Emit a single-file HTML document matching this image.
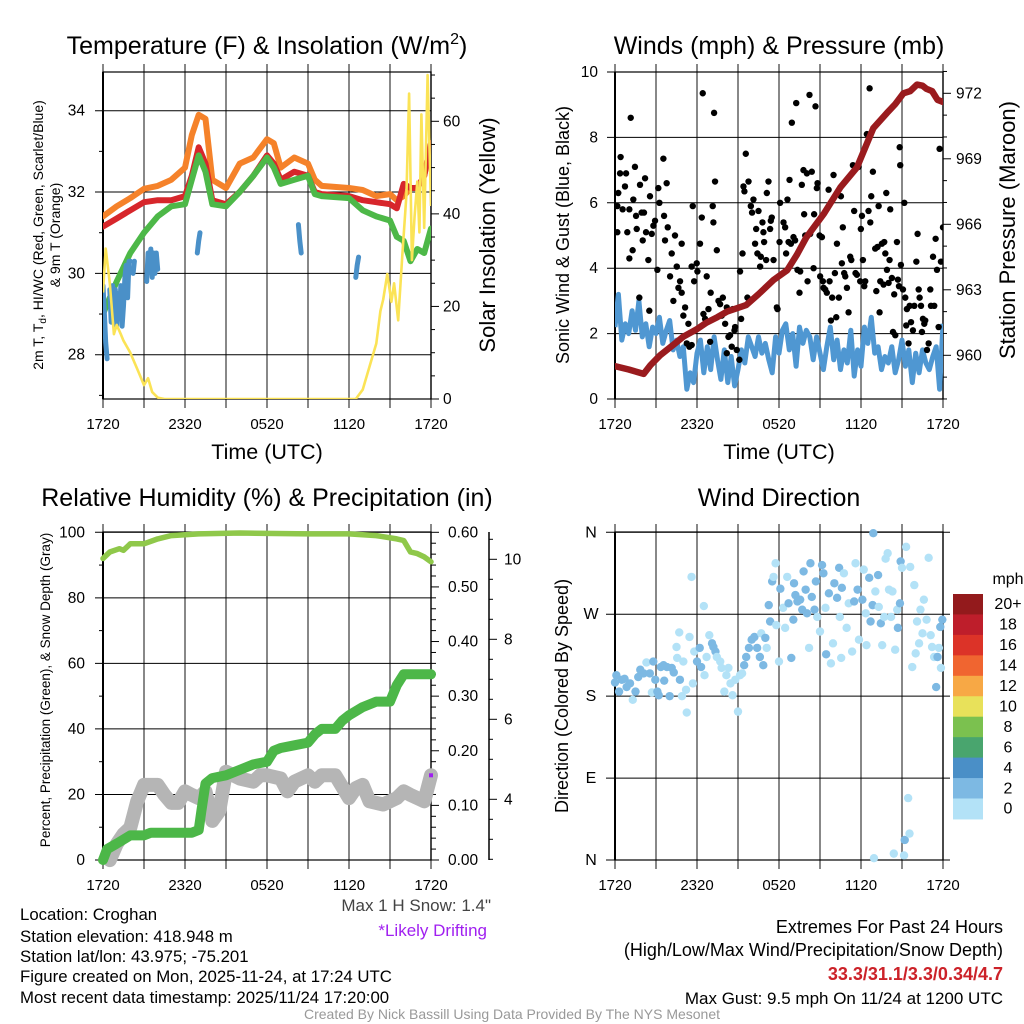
<!DOCTYPE html>
<html><head><meta charset="utf-8"><title>Croghan Meteogram</title>
<style>
html,body{margin:0;padding:0;background:#fff;}
svg{display:block;font-family:"Liberation Sans",Arial,sans-serif;}
</style></head>
<body>
<svg id="chart" xmlns="http://www.w3.org/2000/svg" width="1024" height="1024" viewBox="0 0 1024 1024">
<rect x="0" y="0" width="1024" height="1024" fill="#fff"/>
<defs>
<clipPath id="c1"><rect x="103" y="72" width="328" height="327"/></clipPath>
<clipPath id="c2"><rect x="615" y="72" width="328" height="327"/></clipPath>
<clipPath id="c3"><rect x="96" y="526" width="346" height="342"/></clipPath>
<clipPath id="c4"><rect x="608" y="526" width="342" height="342"/></clipPath>
</defs>
<g id="layer"></g>
<!-- titles -->
<text x="267" y="54" text-anchor="middle" font-size="25">Temperature (F) &amp; Insolation (W/m<tspan font-size="16" dy="-10">2</tspan><tspan dy="10">)</tspan></text>
<text x="779" y="54" text-anchor="middle" font-size="25">Winds (mph) &amp; Pressure (mb)</text>
<text x="267" y="506" text-anchor="middle" font-size="25">Relative Humidity (%) &amp; Precipitation (in)</text>
<text x="779" y="506" text-anchor="middle" font-size="25">Wind Direction</text>
<!-- x-axis titles -->
<text x="267" y="459" text-anchor="middle" font-size="21.5">Time (UTC)</text>
<text x="779" y="459" text-anchor="middle" font-size="21.5">Time (UTC)</text>
<!-- y axis titles -->
<text transform="translate(43,235) rotate(-90)" text-anchor="middle" font-size="14">2m T, T<tspan font-size="10" dy="3">d</tspan><tspan dy="-3">, HI/WC (Red, Green, Scarlet/Blue)</tspan></text>
<text transform="translate(60,235) rotate(-90)" text-anchor="middle" font-size="14">&amp; 9m T (Orange)</text>
<text transform="translate(495,235) rotate(-90)" text-anchor="middle" font-size="22">Solar Insolation (Yellow)</text>
<text transform="translate(569,235) rotate(-90)" text-anchor="middle" font-size="18">Sonic Wind &amp; Gust (Blue, Black)</text>
<text transform="translate(1015,230) rotate(-90)" text-anchor="middle" font-size="22">Station Pressure (Maroon)</text>
<text transform="translate(50,690) rotate(-90)" text-anchor="middle" font-size="13.5">Percent, Precipitation (Green), &amp; Snow Depth (Gray)</text>
<text transform="translate(568,696) rotate(-90)" text-anchor="middle" font-size="18">Direction (Colored By Speed)</text>
<!-- footer text -->
<text x="491" y="911" text-anchor="end" font-size="17" fill="#444">Max 1 H Snow: 1.4"</text>
<text x="487" y="936" text-anchor="end" font-size="17" fill="#a020f0">*Likely Drifting</text>
<g font-size="16.8">
<text x="20" y="920">Location: Croghan</text>
<text x="20" y="942">Station elevation: 418.948 m</text>
<text x="20" y="962">Station lat/lon: 43.975; -75.201</text>
<text x="20" y="982">Figure created on Mon, 2025-11-24, at 17:24 UTC</text>
<text x="20" y="1003">Most recent data timestamp: 2025/11/24 17:20:00</text>
</g>
<text x="1003" y="933" text-anchor="end" font-size="18">Extremes For Past 24 Hours</text>
<text x="1003" y="956" text-anchor="end" font-size="18">(High/Low/Max Wind/Precipitation/Snow Depth)</text>
<text x="1003" y="980" text-anchor="end" font-size="18" font-weight="bold" fill="#cc2229">33.3/31.1/3.3/0.34/4.7</text>
<text x="1003" y="1004" text-anchor="end" font-size="17">Max Gust: 9.5 mph On 11/24 at 1200 UTC</text>
<text x="512" y="1019" text-anchor="middle" font-size="14" fill="#999">Created By Nick Bassill Using Data Provided By The NYS Mesonet</text>
</svg>
<script>
// ---------- data ----------
const timeTicks = ["1720","2320","0520","1120","1720"];
// Panel 1: temperatures (hours since 1720 UTC)
const tempT = [0,1,2,3,4,5,6,6.5,7,7.5,8,9,10,11,12,12.5,13,14,15,15.5,16,18,19,20,21,21.5,22,22.5,23,23.5,24];
const orangeT9m = [31.4,31.65,31.85,32.08,32.15,32.3,32.6,33.4,33.9,33.8,32.3,32.1,32.7,32.85,33.3,33.2,32.6,32.85,32.7,32.3,32.15,32.1,32.05,31.9,31.95,31.8,31.9,32.1,32.1,32.4,33.2];
const redT2m = [31.15,31.35,31.55,31.75,31.8,31.8,31.9,32.4,33.1,32.7,31.8,31.7,32.0,32.4,32.9,32.7,32.3,32.5,32.4,32.0,31.95,31.9,31.8,31.75,31.7,31.6,32.2,32.1,32.1,32.4,33.2];
const greenTd = [29.0,29.8,30.5,31.0,31.4,31.65,31.7,32.3,32.9,32.5,31.7,31.65,32.0,32.4,32.85,32.6,32.2,32.3,32.4,31.95,31.9,31.85,31.55,31.4,31.3,30.9,30.8,30.3,30.6,30.5,31.1];
const chillT = [0,0.1,0.2,0.3,null,0.5,0.6,0.7,0.8,0.9,1.0,1.1,1.2,1.3,1.4,1.5,1.6,1.7,1.8,1.9,2.0,null,2.2,2.3,null,3.2,3.3,3.4,3.5,3.6,3.7,3.8,3.9,4.0,null,6.9,7.0,7.1,null,14.3,14.4,14.5,null,18.5,18.6,18.7];
const chillV = [29.7,29.0,28.3,27.9,null,29.6,28.8,29.7,28.9,29.6,28.7,29.5,28.9,29.7,28.7,29.2,29.9,30.2,29.4,30.3,30.3,null,30.0,30.3,null,29.8,30.5,30.2,30.6,29.9,30.5,30.0,30.5,30.1,null,30.5,30.8,31.0,null,31.2,30.8,30.5,null,29.9,30.2,30.4];
const solarT = [0,0.2,0.5,0.8,1,1.3,1.5,2,2.5,3,3.3,3.6,4,4.5,18.5,19,19.5,20,20.3,20.5,20.8,21.1,21.3,21.6,21.9,22.2,22.4,22.6,22.8,23,23.15,23.3,23.5,23.75,24];
const solarV = [23,32.5,25,14,16,14,12.6,10,6.5,3,4.5,1.5,0.3,0,0,2,7,12,19,21.5,27,21,25,17,31,44,66,30,39.5,47,36,61.5,37,70,41.7];
const tempTicks = [28,30,32,34];
const solarTicks = [0,20,40,60];
// Panel 2: winds
const windV = [2.2,3.2,1.8,2.3,2.0,2.7,2.1,3.0,1.9,2.3,1.6,2.2,2.0,2.5,1.7,2.1,2.4,1.5,1.8,1.3,1.6,0.3,0.8,0.5,1.4,1.8,0.8,1.6,0.9,1.9,1.2,0.6,1.5,0.5,1.3,0.4,0.9,1.5,1.1,1.9,1.6,1.3,1.9,1.4,1.7,1.2,0.8,1.9,1.4,2.1,2.3,1.5,2.0,1.0,2.2,1.7,2.1,1.9,1.2,1.9,1.4,0.9,1.6,2.2,1.2,1.8,0.9,1.5,1.1,2.1,0.7,1.5,1.0,2.2,1.7,2.5,1.4,1.6,0.9,1.3,1.1,1.6,0.8,1.2,1.8,1.0,1.5,0.5,1.4,0.8,1.5,1.1,0.9,1.3,1.6,0.3,2.3];
const windStepHours = 0.25;
const gustT = [0.17,0.24,0.41,0.37,0.17,0.73,0.81,0.9,0.56,1.15,1.05,1.34,1.46,1.54,1.59,1.05,1.29,1.83,1.95,2.2,2.12,2.27,2.03,2.44,1.78,2.56,2.69,2.81,2.93,3.17,3.25,3.54,3.59,3.66,3.78,3.86,3.1,2.51,4.03,4.15,4.39,4.52,4.27,4.64,4.76,4.88,4.88,5.0,5.13,5.37,5.25,5.44,5.61,5.69,5.61,5.79,5.98,6.03,6.22,6.35,6.42,6.47,6.59,6.71,6.84,6.96,7.0,7.15,7.2,7.25,7.32,7.45,7.57,7.69,7.81,7.89,8.06,8.18,8.18,8.3,8.42,8.54,8.62,8.74,8.79,8.91,9.1,9.15,9.23,9.33,9.4,9.47,9.57,9.69,9.77,9.94,10.03,10.13,10.25,10.33,10.42,10.5,10.62,10.67,10.79,10.86,10.91,11.06,11.11,11.23,11.35,11.4,11.47,11.6,11.84,11.89,12.04,12.08,12.33,12.45,12.52,12.62,12.7,12.77,12.87,12.94,13.06,13.18,13.26,13.35,13.5,13.55,13.67,13.79,13.84,13.92,14.04,14.09,14.23,14.28,14.4,14.53,14.57,14.67,14.77,14.82,14.97,15.01,15.14,15.21,15.26,15.38,15.5,15.63,15.7,15.8,15.89,15.99,16.09,16.19,16.24,16.38,16.53,16.6,16.67,16.77,16.85,16.97,17.09,17.21,17.29,17.41,17.5,17.6,17.7,17.82,17.94,17.99,18.07,18.14,18.24,18.31,18.43,18.55,18.63,18.68,18.75,18.87,19.04,19.12,19.21,19.29,19.36,19.41,19.53,19.65,19.7,19.78,19.85,19.9,20.02,20.09,20.14,20.26,20.34,20.43,20.51,20.63,20.7,20.78,20.83,20.87,20.92,21.07,21.17,21.24,21.31,21.36,21.48,21.56,21.66,21.8,21.9,22.05,22.14,22.22,22.29,22.39,22.46,22.53,22.63,22.7,22.83,22.95,23.07,23.12,23.27,23.36,23.46,23.56,23.68,23.75,23.85,24.0];
const gustV = [5.9,6.3,7.4,6.9,5.1,6.5,6.9,5.1,5.8,8.6,5.8,6.1,7.1,5.6,5.2,4.3,4.55,6.55,5.7,6.75,5.7,5.1,4.85,4.25,3.1,6.2,5.05,5.3,5.45,6.45,6.0,7.35,5.6,4.85,6.6,5.25,3.95,2.7,3.75,4.45,5.0,4.05,3.0,3.4,3.6,4.75,3.25,2.55,2.8,2.3,1.7,1.6,1.65,5.9,4.05,3.6,4.15,3.9,4.75,5.55,9.35,2.6,2.45,3.75,2.75,1.75,3.25,5.9,5.4,8.75,6.65,4.55,3.0,2.9,2.55,3.1,2.3,2.8,1.4,1.9,1.95,1.6,2.75,2.1,2.2,1.5,1.2,3.9,2.45,4.45,6.5,6.35,7.5,3.1,6.65,5.9,5.7,6.1,4.75,5.2,4.45,5.75,4.05,4.35,5.4,5.1,4.8,4.25,6.3,6.65,5.2,5.45,5.55,4.25,2.8,2.75,4.8,6.0,5.4,5.25,4.45,6.1,4.8,6.7,4.75,8.45,4.95,4.85,9.05,3.95,3.25,3.9,6.55,7.0,5.65,5.0,6.9,3.6,9.3,5.05,6.95,4.0,5.65,8.95,6.45,6.6,5.0,3.75,4.95,3.6,3.4,3.35,3.25,6.4,3.6,2.4,3.1,6.85,3.85,2.5,4.75,3.1,6.2,4.15,5.25,3.85,3.75,3.4,2.65,4.35,4.25,7.15,5.75,3.85,3.8,7.1,3.6,5.2,5.6,4.25,3.45,3.6,8.1,5.75,9.5,5.4,6.2,6.95,4.6,3.3,4.65,5.9,2.65,3.6,4.75,3.5,4.8,4.45,6.3,3.95,3.55,4.25,5.8,3.7,2.05,3.2,1.95,4.8,3.65,3.45,7.7,7.15,4.1,3.35,6.0,3.1,2.25,2.75,1.7,2.85,2.35,2.1,2.85,4.2,5.05,3.35,3.1,2.85,2.05,2.45,2.3,2.4,1.5,1.7,3.35,2.85,4.35,2.85,4.9,3.95,2.2,7.65,4.2,5.25];
const presT = [0,1,2.1,2.6,3.3,4.3,5,6,6.7,7.5,8.2,9.6,10.5,11.6,12.6,13.3,14,15.3,16.5,17.7,18.3,18.9,19.9,20.5,21.1,21.6,22.1,22.5,22.8,23.2,23.6,24];
const presV = [959.5,959.35,959.15,959.55,960.0,960.5,960.85,961.2,961.5,961.75,962.0,962.3,962.8,963.45,963.9,964.6,965.4,966.5,967.7,968.6,969.5,970.4,971.1,971.5,972.0,972.1,972.4,972.35,972.2,972.1,971.7,971.6];
const windTicks = [0,2,4,6,8,10];
const presTicks = [960,963,966,969,972];
// Panel 3: humidity, precip, snow
const rhT = [0,0.5,1.2,1.5,2,3,4,5,7,10,15,18,20,21.5,22,22.5,23,23.5,24];
const rhV = [92,94,95,94.5,96.5,96.5,98,99,99.5,99.8,99.5,99.5,99,98,97.5,94,93.5,92.5,91];
const precipT = [0,0.3,1,2,3,3.5,6.5,7,7.2,7.5,8,9,10,11,12,12.5,13,14,15,15.5,16,17,17.5,18,19,20,21,21.5,22,24];
const precipV = [0,0.02,0.03,0.045,0.045,0.05,0.05,0.055,0.09,0.14,0.15,0.155,0.165,0.175,0.18,0.2,0.205,0.21,0.215,0.23,0.24,0.24,0.255,0.265,0.28,0.29,0.29,0.32,0.34,0.34];
const snowT = [0.5,1,1.5,2,2.5,3,4,4.5,5,5.5,6,6.5,7,7.5,8,8.5,9,10,11,11.5,12,13,13.5,14,15,15.5,16,17,18,18.5,19,19.5,20.5,21,21.5,22,22.5,23,23.5,24];
const snowV = [2.48,2.88,3.13,3.29,3.95,4.36,4.36,4.11,3.91,3.91,4.2,4.11,4.03,4.2,3.46,3.7,4.69,4.52,4.44,4.6,4.6,4.52,4.2,4.44,4.6,4.44,4.6,4.6,4.03,4.28,4.36,3.95,3.87,3.95,4.03,4.2,4.11,4.03,3.95,4.6];
const pctTicks = [0,20,40,60,80,100];
const precipTicks = ["0.00","0.10","0.20","0.30","0.40","0.50","0.60"];
const snowTicks = [4,6,8,10];
// Panel 4: wind direction
const dirT = [0,0.1,0.3,0.5,0.7,0.85,1.1,1.3,1.5,1.7,1.85,2.1,2.3,2.55,2.7,2.8,2.95,3.1,3.2,3.35,3.55,3.6,3.8,4.0,4.15,4.3,4.5,4.55,4.7,4.75,4.9,5.0,5.2,5.25,5.45,5.6,5.7,5.8,6.0,6.2,6.3,6.5,6.55,6.7,6.9,7.1,7.2,7.35,7.45,7.7,7.8,8.0,8.15,8.3,8.45,8.6,8.8,9.0,9.15,9.3,9.45,9.6,9.8,10.0,10.2,10.4,10.6,10.7,10.85,11.0,11.1,11.25,11.35,11.5,11.6,11.75,11.8,12.0,12.1,12.3,12.45,12.6,12.7,12.9,13.05,13.1,13.2,13.35,13.55,13.7,13.8,13.95,14.05,14.2,14.3,14.4,14.6,14.7,14.8,15.0,15.15,15.25,15.4,15.45,15.65,15.8,15.95,16.05,16.25,16.4,16.45,16.55,16.6,16.75,16.95,17.1,17.35,17.5,17.6,17.75,17.85,18.1,18.2,18.35,18.4,18.6,18.7,18.85,18.9,18.95,19.05,19.25,19.3,19.45,19.55,19.7,19.8,19.95,20.05,20.2,20.3,20.4,20.5,20.65,20.7,20.85,20.9,21.0,21.15,21.2,21.3,21.45,21.55,21.6,21.75,21.9,22.0,22.1,22.25,22.35,22.5,22.6,22.8,22.95,23.1,23.2,23.35,23.5,23.6,23.7,23.8,23.85,23.95];
const dirV = [195,203,185,198,199,190,194,176,185,201,209,205,217,205,184,218,198,185,181,212,214,197,212,180,211,206,234,222,250,198,180,218,187,162,245,311,194,229,218,233,212,279,203,223,247,238,234,229,223,218,211,185,203,211,194,181,198,163,203,205,214,223,233,242,245,233,223,249,214,244,233,280,262,306,311,326,258,218,298,277,255,311,282,222,264,304,291,284,286,275,317,297,271,233,326,289,275,306,267,251,324,315,277,226,293,216,238,304,288,321,267,222,299,315,255,282,229,284,326,297,242,286,319,271,236,310,262,280,359,2,295,313,278,260,236,267,331,337,297,267,295,7,231,275,255,282,328,321,5,22,344,68,29,322,212,302,227,262,238,275,249,286,264,332,247,234,223,190,223,233,256,211,264];
const dirS = [2.6,2.6,2.6,2.6,2.6,2.6,2.6,1.3,2.6,2.6,2.6,2.6,1.3,2.6,1.3,2.6,2.6,2.6,2.6,2.6,2.6,2.6,2.6,2.6,2.6,2.6,1.3,1.3,1.3,2.6,1.3,1.3,1.3,1.3,1.3,1.3,1.3,1.3,2.6,2.6,2.6,1.3,1.3,1.3,1.3,2.6,2.6,2.6,1.3,1.3,1.3,1.3,1.3,1.3,1.3,1.3,1.3,1.3,1.3,1.3,2.6,2.6,2.6,2.6,2.6,2.6,2.6,1.3,2.6,2.6,1.3,2.6,2.6,2.6,1.3,1.3,1.3,1.3,2.6,1.3,1.3,1.3,2.6,2.6,2.6,2.6,2.6,2.6,2.6,2.6,2.6,2.6,2.6,1.3,2.6,2.6,2.6,2.6,1.3,1.3,2.6,2.6,1.3,2.6,2.6,1.3,1.3,2.6,2.6,2.6,1.3,1.3,2.6,1.3,1.3,1.3,1.3,2.6,1.3,2.6,1.3,2.6,1.3,1.3,1.3,2.6,2.6,2.6,2.6,1.3,1.3,2.6,1.3,2.6,1.3,1.3,1.3,1.3,1.3,1.3,1.3,1.3,1.3,1.3,2.6,2.6,2.6,1.3,1.3,2.6,1.3,1.3,1.3,1.3,1.3,1.3,1.3,1.3,1.3,1.3,1.3,1.3,1.3,1.3,1.3,1.3,1.3,2.6,2.6,1.3,2.6,1.3,2.6];
const dirTicks = ["N","E","S","W","N"];
const cbLabels = ["0","2","4","6","8","10","12","14","16","18","20+"];
const cbColors = ["#b3e2f7","#7db9e3","#4a8fc7","#49a56e","#7bc14f","#e8e15a","#f7a845","#f06530","#dc3328","#be1e2b","#931a1c"];

// ---------- helpers ----------
const NS = "http://www.w3.org/2000/svg";
const layer = document.getElementById("layer");
function mk(tag, attrs, parent){
  const e = document.createElementNS(NS, tag);
  for (const k in attrs) e.setAttribute(k, attrs[k]);
  (parent || layer).appendChild(e);
  return e;
}
function lin(d0,d1,r0,r1){ return v => r0 + (v-d0)*(r1-r0)/(d1-d0); }
function pathFrom(ts, vs, sx, sy){
  let d = "", pen = false;
  for (let i=0;i<ts.length;i++){
    if (ts[i]===null || vs[i]===null){ pen=false; continue; }
    d += (pen?"L":"M") + sx(ts[i]).toFixed(1) + "," + sy(vs[i]).toFixed(1);
    pen = true;
  }
  return d;
}
function speedColor(s){
  let i = Math.min(10, Math.max(0, Math.floor(s/2)));
  return cbColors[i];
}

// ---------- frame builder ----------
function frame(p, name){
  const g = mk("g", {});
  
  
  for (let h=0; h<=24; h+=3){
    const x = p.sx(h);
    const l = mk("line", {x1:x, x2:x, y1:p.y0-8, y2:p.y1+9, stroke:"#555", "stroke-width":1.4}, g);
    
    
  }
  timeTicks.forEach((lab,i)=>{
    const t = mk("text", {x:p.sx(i*6), y:p.y1+30, "text-anchor":"middle", "font-size":15}, g);
    t.textContent = lab;
    
    
  });
  const r = mk("rect", {x:p.x0, y:p.y0, width:p.x1-p.x0, height:p.y1-p.y0, fill:"none", stroke:"#000", "stroke-width":1.2}, g);
  
  
  const la = mk("line", {x1:p.x0, x2:p.x0, y1:p.y0, y2:p.y1, stroke:"#000", "stroke-width":2}, g);
  
  
  return g;
}
function hgrid(g, p, y, name){
  const l = mk("line", {x1:p.x0-8, x2:p.x1, y1:y, y2:y, stroke:"#000", "stroke-width":1}, g);
  
  
}
function tick(g, x1, x2, y, name){
  const l = mk("line", {x1:x1, x2:x2, y1:y, y2:y, stroke:"#000", "stroke-width":1}, g);
  
  
}
function label(g, x, y, txt, anchor, name, size){
  const t = mk("text", {x:x, y:y+5, "text-anchor":anchor, "font-size":size||15.5}, g);
  t.textContent = txt;
  
  
  return t;
}

// ---------- panel 1 ----------
(function(){
  const p = {x0:103, x1:431, y0:72, y1:399};
  p.sx = lin(0,24,p.x0,p.x1);
  const sy = lin(28,34,354.7,110.7);
  const sy2 = lin(0,60,399,121.3);
  const g = frame(p, "temperature");
  for (let v=27; v<=34; v++){
    if (v%2===0){ hgrid(g,p,sy(v),"temperature"); label(g,85,sy(v),String(v),"end","temperature-y-tick-label"); }
    else tick(g,99,103,sy(v),"temperature-minor-tick");
  }
  for (let v=0; v<=70; v+=5){
    const y = sy2(v);
    if (v%20===0){ tick(g,431,439,y,"insolation-major-tick"); label(g,443,y,String(v),"start","insolation-y-tick-label"); }
    else tick(g,431,435,y,"insolation-minor-tick");
  }
  const cg = mk("g", {"clip-path":"url(#c1)"});
  
  
  const series = [
    [orangeT9m,"#f5822a","temperature-9m-line"],
    [redT2m,"#d7262b","temperature-2m-line"],
    [greenTd,"#4db848","dewpoint-line"]
  ];
  series.forEach(s=>{
    const e = mk("path", {d:pathFrom(tempT,s[0],p.sx,sy), fill:"none", stroke:s[1], "stroke-width":6, "stroke-linejoin":"round", "stroke-linecap":"round"}, cg);
    
    
  });
  const wc = mk("path", {d:pathFrom(chillT,chillV,p.sx,sy), fill:"none", stroke:"#4a90c8", "stroke-width":5, "stroke-linejoin":"round", "stroke-linecap":"round"}, cg);
  
  
  const yl = mk("path", {d:pathFrom(solarT,solarV,p.sx,sy2), fill:"none", stroke:"#fbe356", "stroke-width":2.6, "stroke-linejoin":"round"}, cg);
  
  
})();

// ---------- panel 2 ----------
(function(){
  const p = {x0:615, x1:943, y0:72, y1:399};
  p.sx = lin(0,24,p.x0,p.x1);
  const sy = lin(0,10,399,72);
  const sy2 = lin(960,972,355.3,93.3);
  const g = frame(p, "winds");
  windTicks.forEach(v=>{ hgrid(g,p,sy(v),"winds"); label(g,598,sy(v),String(v),"end","wind-y-tick-label"); });
  for (let v=958; v<=973; v++){
    const y = sy2(v);
    if (presTicks.indexOf(v)>=0){ tick(g,943,951,y,"pressure-major-tick"); label(g,956,y,String(v),"start","pressure-y-tick-label"); }
    else tick(g,943,947,y,"pressure-minor-tick");
  }
  const cg = mk("g", {"clip-path":"url(#c2)"});
  
  
  const wt = windV.map((v,i)=>i*windStepHours);
  const wl = mk("path", {d:pathFrom(wt,windV,p.sx,sy), fill:"none", stroke:"#4f97d2", "stroke-width":5, "stroke-linejoin":"round"}, cg);
  
  
  gustT.forEach((t,i)=>{
    const c = mk("circle", {cx:p.sx(t), cy:sy(gustV[i]), r:3.2, fill:"#000"}, cg);
    
    
  });
  const pl = mk("path", {d:pathFrom(presT,presV,p.sx,sy2), fill:"none", stroke:"#9a1b1e", "stroke-width":6.5, "stroke-linejoin":"round", "stroke-linecap":"round"}, cg);
  
  
})();

// ---------- panel 3 ----------
(function(){
  const p = {x0:103, x1:431, y0:532, y1:860};
  p.sx = lin(0,24,p.x0,p.x1);
  const sy = lin(0,100,860,532.3);
  const syp = lin(0,0.6,860,532.3);
  const sys = lin(4,10,799.3,559.3);
  const g = frame(p, "humidity");
  for (let v=0; v<=100; v+=10){
    if (v%20===0){ hgrid(g,p,sy(v),"humidity"); label(g,85,sy(v),String(v),"end","humidity-y-tick-label"); }
    else tick(g,99,103,sy(v),"humidity-minor-tick");
  }
  for (let k=0; k<=30; k++){
    const v = k*0.02, y = syp(v);
    if (k%5===0){ tick(g,431,439,y,"precip-major-tick"); label(g,448,y,precipTicks[k/5],"start","precip-y-tick-label"); }
    else tick(g,431,436,y,"precip-minor-tick");
  }
  const sa = mk("line", {x1:489, x2:489, y1:532, y2:860, stroke:"#000", "stroke-width":1.5}, g);
  
  
  for (let k=5; k<=21; k++){
    const v = k*0.5, y = sys(v);
    if (y<532||y>860) continue;
    if (snowTicks.indexOf(v)>=0){ tick(g,489,497,y,"snow-major-tick"); label(g,504,y,String(v),"start","snow-y-tick-label"); }
    else tick(g,489,493,y,"snow-minor-tick");
  }
  const cg = mk("g", {"clip-path":"url(#c3)"});
  
  
  const rl = mk("path", {d:pathFrom(rhT,rhV,p.sx,sy), fill:"none", stroke:"#8fc84a", "stroke-width":5.5, "stroke-linejoin":"round", "stroke-linecap":"round"}, cg);
  
  
  const sl = mk("path", {d:pathFrom(snowT,snowV,p.sx,sys), fill:"none", stroke:"#b5b5b5", "stroke-width":14, "stroke-linejoin":"round", "stroke-linecap":"round"}, cg);
  
  
  const pl = mk("path", {d:pathFrom(precipT,precipV,p.sx,syp), fill:"none", stroke:"#4cb748", "stroke-width":10, "stroke-linejoin":"round", "stroke-linecap":"round"}, cg);
  
  
  const dm = mk("rect", {x:p.sx(24)-2, y:sys(snowV[snowV.length-1])-2, width:4, height:4, fill:"#a020f0"}, cg);
  
  
})();

// ---------- panel 4 ----------
(function(){
  const p = {x0:615, x1:943, y0:532, y1:860};
  p.sx = lin(0,24,p.x0,p.x1);
  const sy = lin(0,360,860,532.3);
  const g = frame(p, "direction");
  dirTicks.forEach((lab,i)=>{
    const y = sy(i*90);
    const l = mk("line", {x1:606, x2:950, y1:y, y2:y, stroke:"#000", "stroke-width":1}, g);
    
    
    label(g,591,y,lab,"middle","direction-y-tick-label",16);
  });
  const cg = mk("g", {"clip-path":"url(#c4)"});
  
  
  dirT.forEach((t,i)=>{
    const c = mk("circle", {cx:p.sx(t), cy:sy(dirV[i]), r:4.2, fill:speedColor(dirS[i])}, cg);
    
    
  });
  const cb = mk("g", {});
  
  
  const top = 594, bh = 20.45;
  for (let i=0;i<cbColors.length;i++){
    const k = cbColors.length-1-i;
    const r = mk("rect", {x:953, y:top+i*bh, width:30, height:bh+0.5, fill:cbColors[k]}, cb);
    
    
    label(cb,1008,top+i*bh+bh/2,cbLabels[k],"middle","colorbar-label",16);
  }
  label(cb,1008,579,"mph","middle","colorbar-title",16);
})();
</script>
</body></html>
